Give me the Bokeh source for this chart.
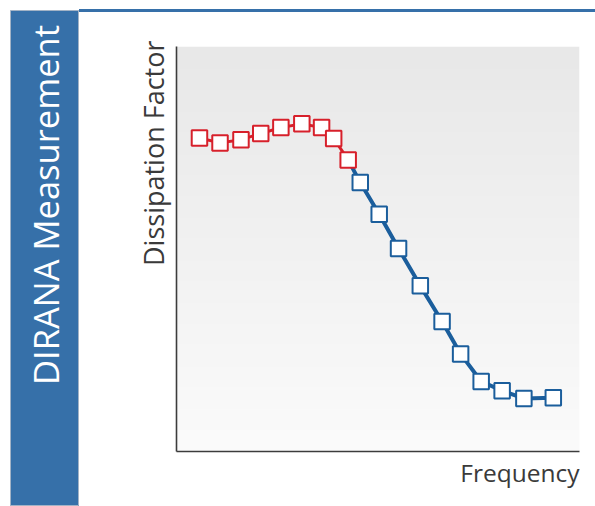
import numpy as np
from bokeh.plotting import figure
from bokeh.layouts import row, column
from bokeh.models import Range1d, Label, FixedTicker, Title, Div
from bokeh.embed import file_html
from bokeh.resources import INLINE

# ---- data (relative frequency position / relative dissipation factor) ----
red_freq = [5.7, 10.8, 16.0, 20.9, 25.9, 31.1, 36.0, 39.0, 42.6]
red_df = [77.4, 76.2, 77.0, 78.5, 80.0, 80.9, 80.0, 77.3, 72.0]
blue_freq = [45.6, 50.3, 55.1, 60.5, 65.9, 70.5, 75.6, 80.8, 86.2, 93.5]
blue_df = [66.4, 58.6, 50.1, 40.9, 32.1, 24.1, 17.3, 15.0, 13.1, 13.3]
x_label = "Frequency"
y_label = "Dissipation Factor"
side_title = "DIRANA Measurement"

X0, X1 = 0, 100
Y0, Y1 = 0, 100

BAND = "#3670a9"
RED = "#d7202b"
BLUE = "#1b5e9c"
AXIS = "#3c3c3c"
TXT = "#3a3a3a"
FONT = "Open Sans"

# ---- left blue band ----
band = figure(width=79, height=506, output_backend="svg", toolbar_location=None,
              x_range=Range1d(0, 1), y_range=Range1d(0, 1),
              min_border_left=10, min_border_top=10, min_border_right=0, min_border_bottom=0)
band.axis.visible = False
band.grid.visible = False
band.background_fill_color = BAND
band.border_fill_color = "white"
band.outline_line_color = "#a3b3c6"
band.outline_line_width = 1
band.add_layout(Label(x=0.50, y=0.245, text=side_title, angle=np.pi / 2,
                      text_color="white", text_font=FONT, text_font_size="34.5px",
                      text_align="left", text_baseline="alphabetic"))

# ---- top blue rule (plain HTML strip) ----
rule = Div(text=('<div style="position:relative;width:516px;height:14px;">'
                 '<div style="position:absolute;left:0;top:9px;width:516px;height:2.5px;'
                 'background:%s;"></div></div>' % BAND),
           width=516, height=14, margin=0)

# ---- chart ----
p = figure(width=516, height=492, output_backend="svg", toolbar_location=None,
           x_range=Range1d(X0, X1), y_range=Range1d(Y0, Y1),
           min_border_left=97, min_border_right=16, min_border_top=32, min_border_bottom=55)
p.grid.visible = False
p.outline_line_color = None
p.background_fill_color = "white"
p.border_fill_color = "white"
for ax in (p.xaxis[0], p.yaxis[0]):
    ax.ticker = FixedTicker(ticks=[])
    ax.major_tick_line_color = None
    ax.minor_tick_line_color = None
    ax.major_tick_out = 0
    ax.major_tick_in = 0
    ax.minor_tick_out = 0
    ax.major_label_standoff = 0
    ax.major_label_text_font_size = "0px"
    ax.axis_line_color = AXIS
    ax.axis_line_width = 1.6

# vertical gradient background
N = 256
img = np.empty((N, 1), dtype=np.uint32)
v = img.view(dtype=np.uint8).reshape((N, 1, 4))
g = np.linspace(251, 232, N).astype(np.uint8)
v[:, 0, 0] = g
v[:, 0, 1] = g
v[:, 0, 2] = g
v[:, 0, 3] = 255
p.image_rgba(image=[img], x=X0, y=Y0, dw=X1 - X0, dh=Y1 - Y0)

# lines
p.line(red_freq, red_df, line_color=RED, line_width=3)
p.line([red_freq[-1]] + blue_freq, [red_df[-1]] + blue_df, line_color=BLUE, line_width=4)
# markers
p.scatter(red_freq, red_df, marker="square", size=15.5, fill_color="white",
          line_color=RED, line_width=2)
p.scatter(blue_freq, blue_df, marker="square", size=15.5, fill_color="white",
          line_color=BLUE, line_width=2)

# axis titles
p.add_layout(Title(text=x_label, align="right", vertical_align="top",
                   text_color=TXT, text_font=FONT, text_font_size="24.5px",
                   text_font_style="normal", standoff=8, offset=0), "below")
p.add_layout(Title(text=y_label, align="right", vertical_align="bottom",
                   text_color=TXT, text_font=FONT, text_font_size="27px",
                   text_font_style="normal", standoff=9, offset=-6), "left")

layout = row(band, column(rule, p))
open("out.html", "w").write(file_html(layout, INLINE))
